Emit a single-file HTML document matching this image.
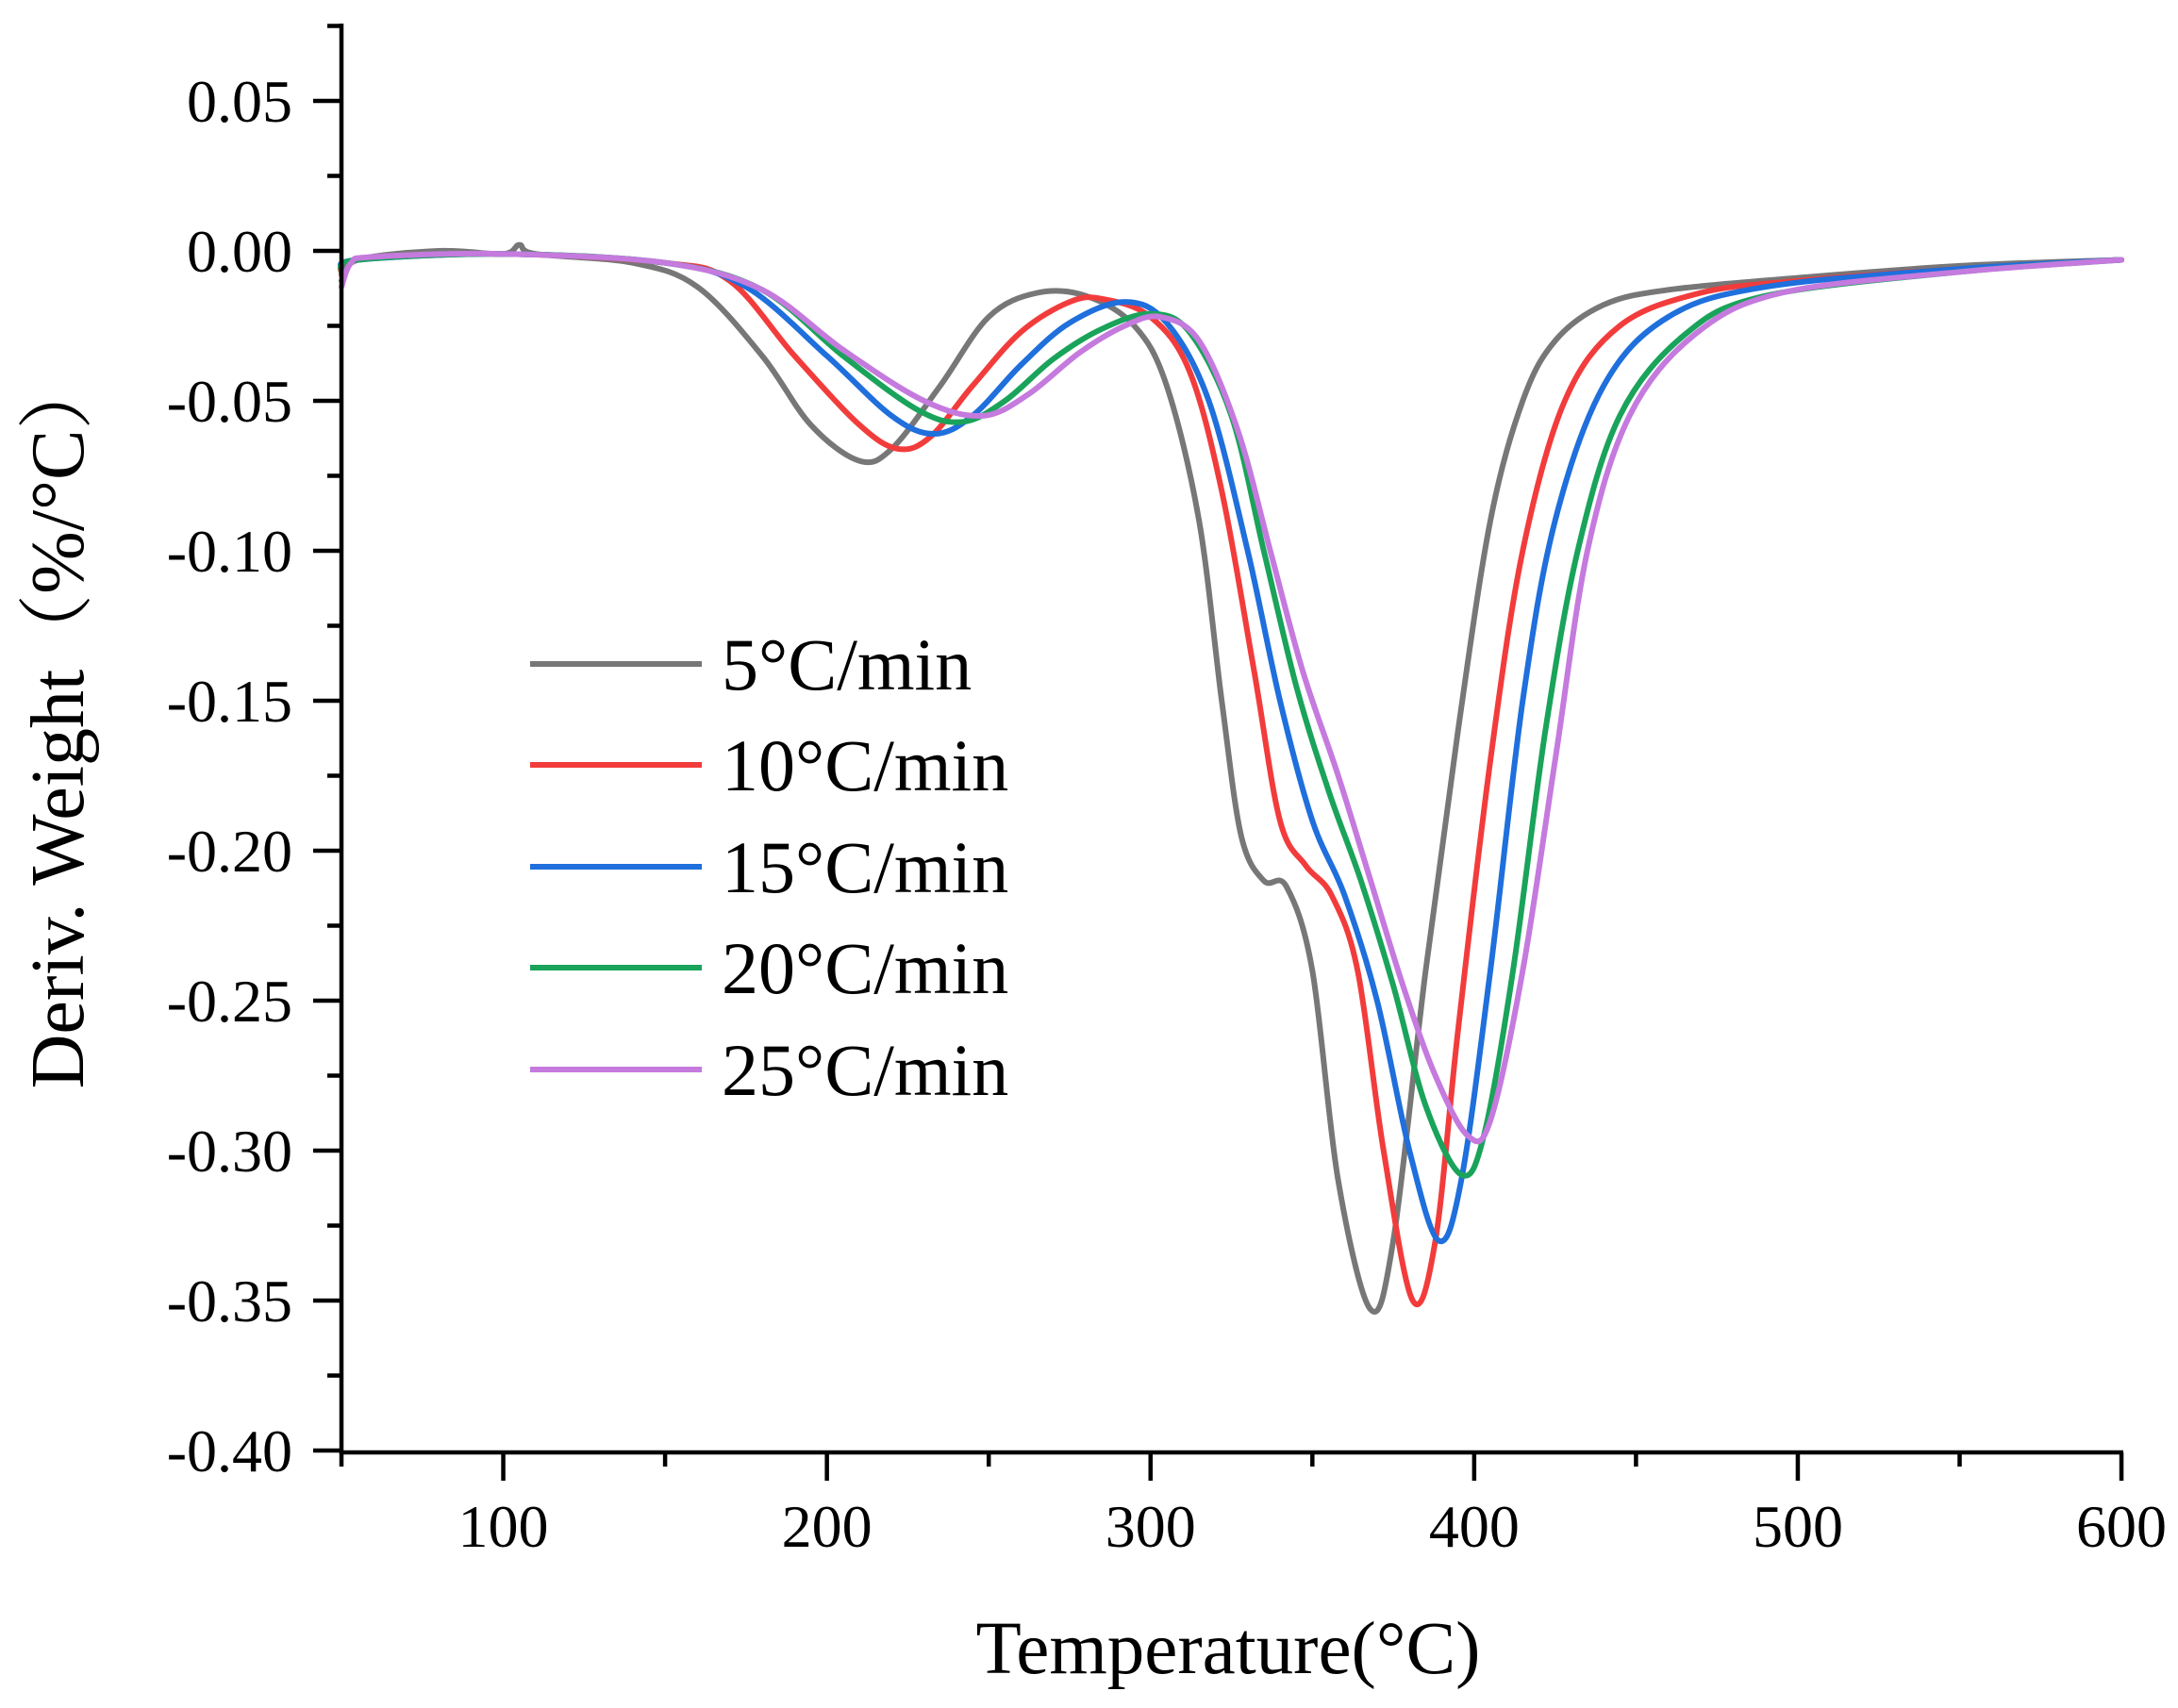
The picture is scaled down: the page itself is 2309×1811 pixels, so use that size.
<!DOCTYPE html>
<html><head><meta charset="utf-8"><style>
html,body{margin:0;padding:0;background:#fff}
svg{display:block}
text{font-family:"Liberation Serif","Noto Serif CJK SC",serif;fill:#000}
</style></head><body>
<svg id="s" width="2309" height="1811" viewBox="0 0 2309 1811" xmlns="http://www.w3.org/2000/svg">
<g id="curves" fill="none" stroke-width="6" stroke-linejoin="round" stroke-linecap="round"></g>
<g id="axes" stroke="#000" stroke-width="4.5" fill="none"></g>
<g id="labels" font-size="64"></g>
<text x="1302" y="1774" font-size="79" text-anchor="middle">Temperature(°C)</text>
<text transform="translate(88,765) rotate(-90)" font-size="80" text-anchor="middle">Deriv. Weight（%/°C）</text>
<g font-size="78">
<line x1="562" y1="704" x2="744" y2="704" stroke="#777" stroke-width="6"/>
<text x="765" y="731">5°C/min</text>
<line x1="562" y1="811" x2="744" y2="811" stroke="#f23c3c" stroke-width="6"/>
<text x="765" y="838">10°C/min</text>
<line x1="562" y1="919" x2="744" y2="919" stroke="#1f6fdc" stroke-width="6"/>
<text x="765" y="946">15°C/min</text>
<line x1="562" y1="1026" x2="744" y2="1026" stroke="#1aa35a" stroke-width="6"/>
<text x="765" y="1053">20°C/min</text>
<line x1="562" y1="1134" x2="744" y2="1134" stroke="#c57ade" stroke-width="6"/>
<text x="765" y="1161">25°C/min</text>
</g>
</svg>
<script>
var NS="http://www.w3.org/2000/svg";
function X(t){return 362+(t-50)*3.431;}
function Y(v){return 266-v*3180;}
function el(p,tag,a,txt){var e=document.createElementNS(NS,tag);for(var k in a)e.setAttribute(k,a[k]);if(txt)e.textContent=txt;p.appendChild(e);return e;}
var ax=document.getElementById('axes'),lb=document.getElementById('labels');
el(ax,'line',{x1:362,y1:25,x2:362,y2:1542});
el(ax,'line',{x1:360,y1:1540,x2:2251,y2:1540});
for(var t=50;t<=600;t+=50){var maj=(t%100==0);el(ax,'line',{x1:X(t),y1:1540,x2:X(t),y2:maj?1570:1555});
 if(maj)el(lb,'text',{x:X(t),y:1640,'text-anchor':'middle'},String(t));}
for(var i=-16;i<=3;i++){var v=i*0.025;var maj=(i%2==0);el(ax,'line',{x1:362,y1:Y(v),x2:maj?332:347,y2:Y(v)});
 if(maj&&i<=2)el(lb,'text',{x:310,y:Y(v)+22,'text-anchor':'end'},v.toFixed(2));}
var D=[
["#777",[[50,-0.01],[55,-0.003],[80,0],[100,-0.001],[105,0.002],[110,-0.001],[140,-0.004],[160,-0.012],[180,-0.035],[195,-0.058],[210,-0.070],[220,-0.066],[235,-0.045],[250,-0.022],[265,-0.014],[280,-0.015],[295,-0.025],[305,-0.045],[315,-0.09],[322,-0.15],[328,-0.195],[335,-0.21],[342,-0.212],[350,-0.24],[358,-0.31],[368,-0.353],[375,-0.33],[385,-0.24],[395,-0.16],[405,-0.09],[415,-0.05],[425,-0.03],[440,-0.018],[460,-0.013],[500,-0.009],[550,-0.005],[600,-0.003]]],
["#f23c3c",[[50,-0.008],[55,-0.003],[100,-0.001],[150,-0.004],[170,-0.01],[190,-0.035],[210,-0.058],[222,-0.066],[232,-0.062],[245,-0.045],[260,-0.027],[275,-0.017],[285,-0.016],[300,-0.022],[312,-0.04],[322,-0.08],[332,-0.14],[340,-0.19],[348,-0.205],[356,-0.215],[364,-0.24],[372,-0.3],[381,-0.350],[388,-0.33],[395,-0.26],[405,-0.17],[415,-0.1],[428,-0.05],[445,-0.025],[470,-0.014],[500,-0.01],[550,-0.006],[600,-0.003]]],
["#1f6fdc",[[50,-0.006],[55,-0.003],[100,-0.001],[150,-0.004],[175,-0.012],[200,-0.035],[220,-0.055],[233,-0.061],[245,-0.055],[260,-0.038],[275,-0.024],[292,-0.017],[305,-0.024],[318,-0.05],[330,-0.1],[340,-0.15],[350,-0.19],[360,-0.215],[370,-0.25],[380,-0.3],[389,-0.330],[396,-0.31],[405,-0.24],[415,-0.15],[425,-0.09],[440,-0.045],[460,-0.022],[490,-0.012],[550,-0.006],[600,-0.003]]],
["#1aa35a",[[50,-0.007],[55,-0.003],[100,-0.001],[150,-0.004],[180,-0.013],[205,-0.035],[228,-0.053],[242,-0.057],[255,-0.05],[270,-0.036],[285,-0.026],[300,-0.021],[312,-0.027],[325,-0.055],[335,-0.1],[345,-0.145],[355,-0.18],[365,-0.21],[375,-0.245],[385,-0.285],[396,-0.308],[403,-0.295],[412,-0.24],[422,-0.16],[432,-0.1],[445,-0.055],[465,-0.028],[490,-0.015],[550,-0.007],[600,-0.003]]],
["#c57ade",[[50,-0.012],[53,-0.004],[60,-0.002],[100,-0.001],[150,-0.004],[180,-0.013],[205,-0.033],[230,-0.05],[248,-0.055],[262,-0.048],[278,-0.034],[292,-0.025],[303,-0.022],[315,-0.03],[327,-0.06],[337,-0.1],[347,-0.14],[358,-0.175],[368,-0.21],[378,-0.245],[388,-0.275],[398,-0.295],[405,-0.29],[415,-0.24],[425,-0.17],[435,-0.1],[448,-0.055],[468,-0.028],[495,-0.014],[550,-0.007],[600,-0.003]]]
];
var cg=document.getElementById('curves');
D.forEach(function(c){var p=c[1].map(function(q){return [X(q[0]),Y(q[1])];});
 var d="M"+p[0][0].toFixed(1)+","+p[0][1].toFixed(1);
 for(var i=0;i<p.length-1;i++){var p0=p[Math.max(0,i-1)],p1=p[i],p2=p[i+1],p3=p[Math.min(p.length-1,i+2)];
  var c1=[p1[0]+(p2[0]-p0[0])/6,p1[1]+(p2[1]-p0[1])/6],c2=[p2[0]-(p3[0]-p1[0])/6,p2[1]-(p3[1]-p1[1])/6];
  d+="C"+c1[0].toFixed(1)+","+c1[1].toFixed(1)+" "+c2[0].toFixed(1)+","+c2[1].toFixed(1)+" "+p2[0].toFixed(1)+","+p2[1].toFixed(1);}
 el(cg,'path',{d:d,stroke:c[0]});});
</script>
</body></html>
